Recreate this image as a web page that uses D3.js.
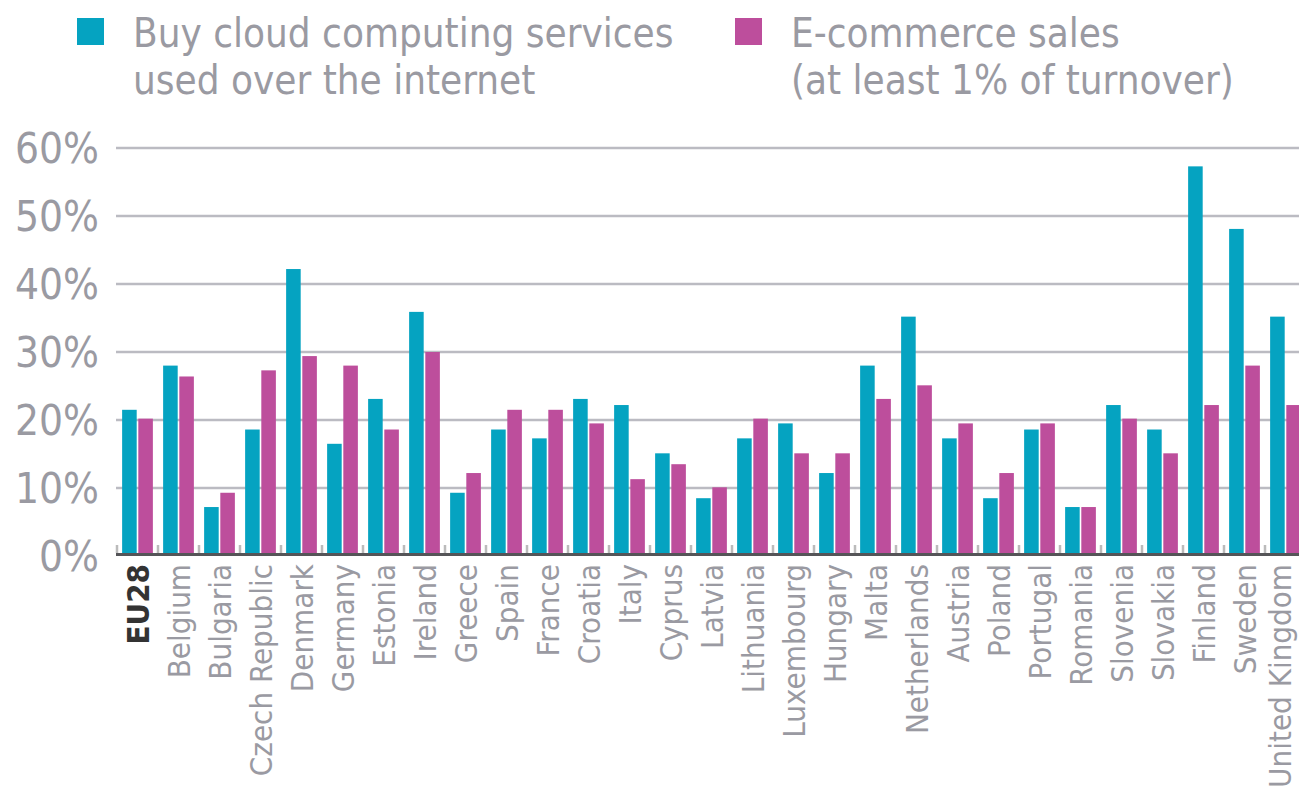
<!DOCTYPE html>
<html><head><meta charset="utf-8">
<script src="https://cdn.jsdelivr.net/npm/d3@7"></script>
<style>
html,body{margin:0;padding:0;background:#fff;}
svg{display:block;}
text{font-family:"Liberation Sans Narrow","DejaVu Sans Condensed","Roboto Condensed",sans-serif;}
</style></head>
<body>
<svg id="chart" width="1299" height="797"></svg>
<script>
const categories = ["EU28","Belgium","Bulgaria","Czech Republic","Denmark","Germany","Estonia","Ireland","Greece","Spain","France","Croatia","Italy","Cyprus","Latvia","Lithuania","Luxembourg","Hungary","Malta","Netherlands","Austria","Poland","Portugal","Romania","Slovenia","Slovakia","Finland","Sweden","United Kingdom"];
const cloudValues = [21.5,28,7.2,18.6,42.2,16.5,23.1,35.9,9.3,18.6,17.3,23.1,22.2,15.1,8.5,17.3,19.5,12.2,28,35.2,17.3,8.5,18.6,7.2,22.2,18.6,57.3,48.1,35.2];
const ecomValues = [20.2,26.4,9.3,27.3,29.4,28,18.6,30,12.2,21.5,21.5,19.5,11.3,13.5,10.1,20.2,15.1,15.1,23.1,25.1,19.5,12.2,19.5,7.2,20.2,15.1,22.2,28,22.2];
const seriesNames = ["Buy cloud computing services\nused over the internet","E-commerce sales\n(at least 1% of turnover)"];
const yTicks = [0,10,20,30,40,50,60];

const colors = ["#05a3c1","#bd4e9c"];
const svg = d3.select("#chart");

const x = d3.scaleBand().domain(categories).range([117,1306]).paddingInner(0.25).paddingOuter(0.125);
const x1 = d3.scaleBand().domain([0,1]).range([0,x.bandwidth()]).paddingInner(0.1);
const y = d3.scaleLinear().domain([0,60]).range([556,148]);

// gridlines
svg.append("g").selectAll("line").data(yTicks.filter(d=>d>0)).join("line")
  .attr("x1",116).attr("x2",1306)
  .attr("y1",d=>Math.round(y(d))).attr("y2",d=>Math.round(y(d)))
  .attr("stroke","#bbbbc2").attr("stroke-width",2.5);

// y labels
svg.append("g").selectAll("text").data(yTicks).join("text")
  .attr("x",99).attr("y",d=>y(d)).attr("dy","0.36em")
  .attr("text-anchor","end").attr("font-size",42).attr("fill","#9a9aa2")
  .text(d=>d+"%");

// bars
const data = categories.map((c,i)=>({c,vals:[cloudValues[i],ecomValues[i]]}));
const g = svg.append("g").selectAll("g").data(data).join("g")
  .attr("transform",d=>`translate(${x(d.c)},0)`);
g.selectAll("rect").data(d=>d.vals.map((v,k)=>({v,k}))).join("rect")
  .attr("x",d=>x1(d.k)).attr("width",x1.bandwidth())
  .attr("y",d=>y(d.v)).attr("height",d=>553-y(d.v))
  .attr("fill",d=>colors[d.k]);

// small separator ticks
const step = x.step();
svg.append("g").selectAll("rect").data(categories).join("rect")
  .attr("x",d=>x(d)-step*0.125-1.25).attr("width",2.5)
  .attr("y",545).attr("height",8).attr("fill","#bbbbbb");

// axis line
svg.append("line").attr("x1",116).attr("x2",1306).attr("y1",554.5).attr("y2",554.5)
  .attr("stroke","#555558").attr("stroke-width",3);

// x labels
svg.append("g").selectAll("text").data(categories).join("text")
  .attr("transform",d=>`translate(${Math.min(x(d)+x.bandwidth()/2,1280)},564) rotate(-90)`)
  .attr("dy","0.36em").attr("text-anchor","end")
  .attr("font-size",31)
  .attr("font-weight",d=>d==="EU28"?"bold":"normal")
  .attr("fill",d=>d==="EU28"?"#333333":"#9a9aa2")
  .text(d=>d);

// legend
const legX = [77,735];
seriesNames.forEach((name,i)=>{
  svg.append("rect").attr("x",legX[i]).attr("y",18).attr("width",27).attr("height",27).attr("fill",colors[i]);
  const t = svg.append("text").attr("x",legX[i]+56).attr("y",47).attr("font-size",40).attr("fill","#9a9aa2");
  name.split("\n").forEach((ln,j)=>{
    t.append("tspan").attr("x",legX[i]+56).attr("dy",j?47:0).text(ln);
  });
});
</script>
</body></html>
